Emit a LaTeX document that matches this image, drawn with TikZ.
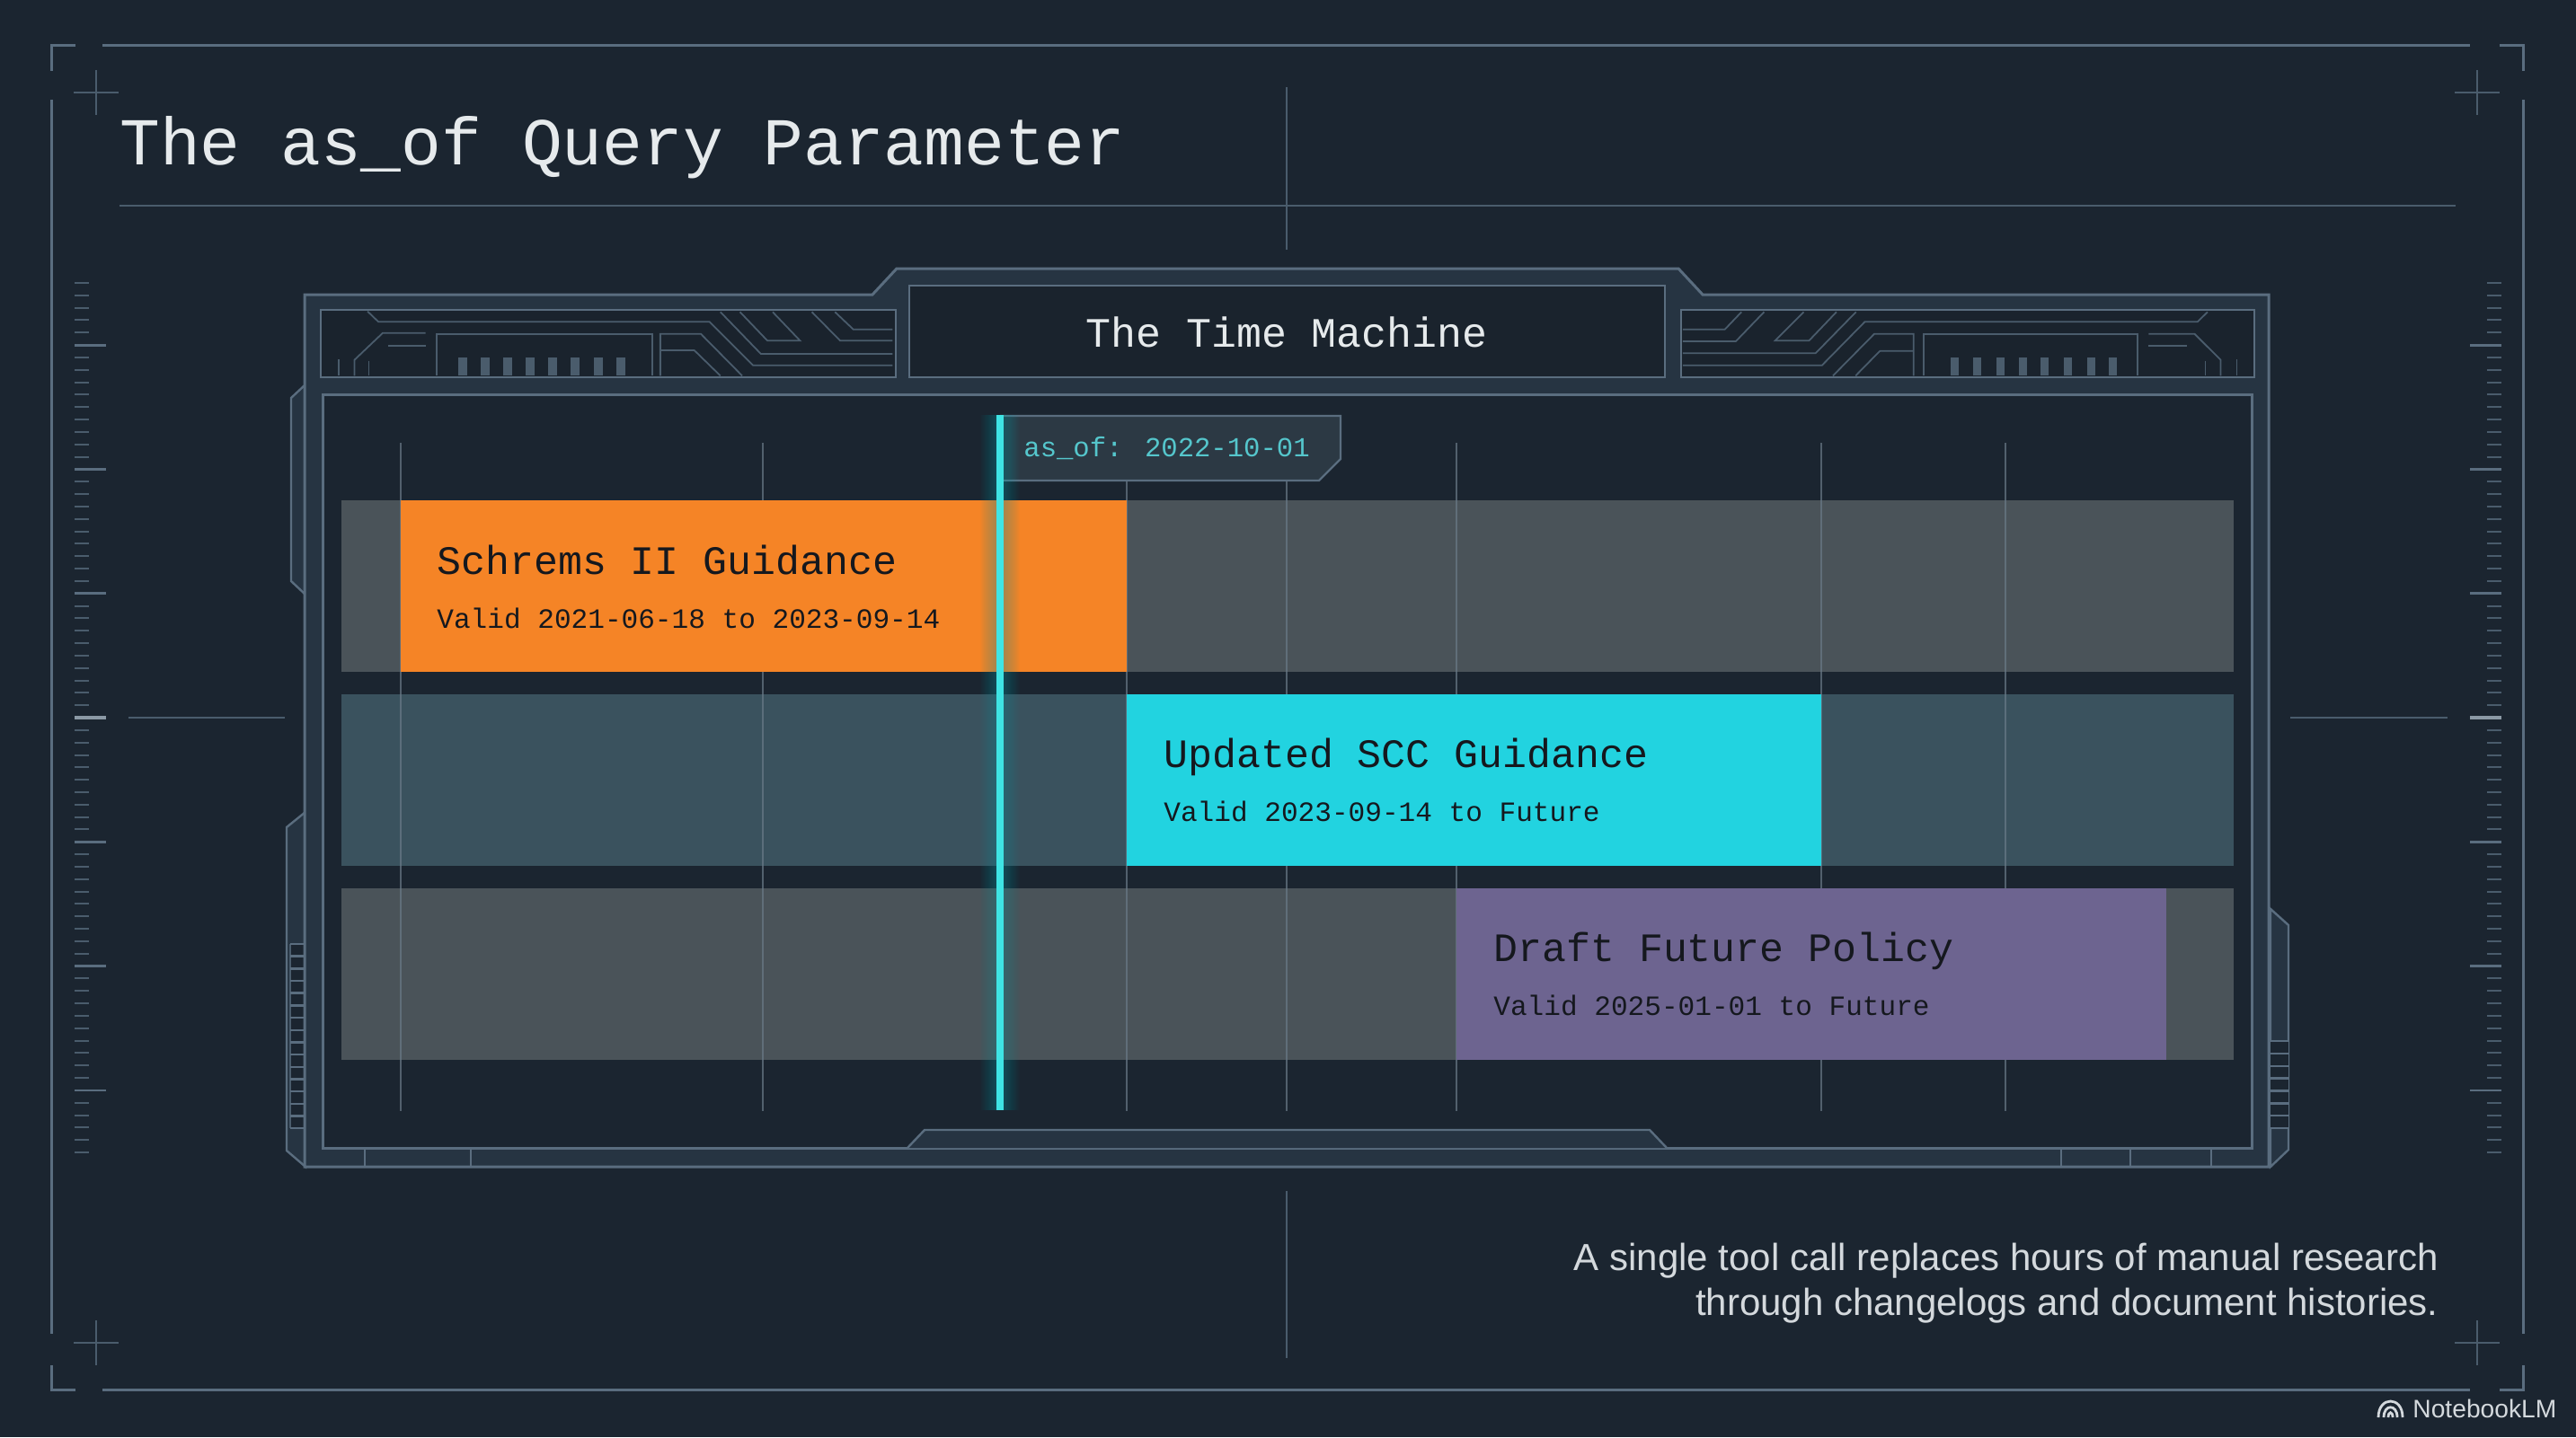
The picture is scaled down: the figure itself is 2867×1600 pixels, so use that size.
\documentclass[tikz,border=0pt]{standalone}
\usepackage{fontspec}
\setmainfont{Liberation Sans}
\newfontfamily\codefont{Liberation Mono}
\definecolor{bgc}{HTML}{1B2530}
\definecolor{bandc}{HTML}{263442}
\definecolor{stripc}{HTML}{1A232D}
\definecolor{framec}{HTML}{5A6D7F}
\definecolor{thinc}{HTML}{4A5C6C}
\definecolor{gridc}{HTML}{6A7A88}
\definecolor{rowa}{HTML}{4A5359}
\definecolor{rowb}{HTML}{3A525E}
\definecolor{orangec}{HTML}{F58426}
\definecolor{cyanc}{HTML}{22D3E0}
\definecolor{purplec}{HTML}{6D6490}
\definecolor{linec}{HTML}{3FE4E4}
\definecolor{glowc}{HTML}{12B4BC}
\definecolor{tagc}{HTML}{2C3944}
\definecolor{tagt}{HTML}{55C6CC}
\definecolor{titlec}{HTML}{E6EAEC}
\definecolor{capc}{HTML}{D4D9DD}
\definecolor{inkc}{HTML}{15181E}
\tikzset{
  fr/.style={draw=framec,line width=1.5pt},
  frs/.style={draw=framec,line width=1.2pt},
  deco/.style={draw=thinc,line width=0.9pt},
  barz/.style={fill=thinc},
  gridl/.style={draw=gridc,line width=0.7pt,draw opacity=0.7},
  tickmin/.style={draw=thinc,line width=1pt},
  tickmaj/.style={draw=framec,line width=1.4pt},
  txt/.style={inner sep=0pt,anchor=base west},
  rowt/.style={txt,text=inkc,font=\codefont\fontsize{22.45pt}{26pt}\selectfont},
  rows/.style={txt,text=inkc,font=\codefont\fontsize{15.55pt}{18pt}\selectfont},
}
\begin{document}
\begin{tikzpicture}[x=0.5pt,y=-0.5pt]
\useasboundingbox (0,0) rectangle (2867,1600);
\fill[bgc] (0,0) rectangle (2867,1600);
% outer corner frame
\draw[fr] (114,51) -- (2749,51);
\draw[fr] (114,1547) -- (2749,1547);
\draw[fr] (57,111) -- (57,1485);
\draw[fr] (2808,111) -- (2808,1485);
\draw[fr] (84,51) -- (57,51) -- (57,79);
\draw[fr] (2782,51) -- (2808,51) -- (2808,79);
\draw[fr] (84,1547) -- (57,1547) -- (57,1520);
\draw[fr] (2782,1547) -- (2808,1547) -- (2808,1520);
% crosses
\foreach \cx/\cy in {107/103,2757/103,107/1495,2757/1495}{
  \draw[draw=thinc,line width=1.1pt] (\cx-25,\cy) -- (\cx+25,\cy) (\cx,\cy-25) -- (\cx,\cy+25);
}
% title rule and cross hairs
\draw[draw=thinc,line width=1pt] (133,229) -- (2733,229);
\draw[draw=thinc,line width=0.8pt] (1432,97) -- (1432,278);
\draw[draw=thinc,line width=0.8pt] (1432,1326) -- (1432,1512);
\draw[draw=thinc,line width=0.8pt] (143,799) -- (317,799);
\draw[draw=thinc,line width=0.8pt] (2549,799) -- (2724,799);
% rulers
\foreach \k in {-35,...,35}{
  \pgfmathsetmacro{\ty}{799+13.83*\k}
  \draw[tickmin] (83,\ty) -- (99,\ty);
  \draw[tickmin] (2768,\ty) -- (2784,\ty);
}
\foreach \k in {-3,...,3}{
  \pgfmathsetmacro{\ty}{799+138.3*\k}
  \draw[tickmaj] (83,\ty) -- (118,\ty);
  \draw[tickmaj] (2749,\ty) -- (2784,\ty);
}
\draw[draw=framec!70!white,line width=2pt] (83,799) -- (118,799);
\draw[draw=framec!70!white,line width=2pt] (2749,799) -- (2784,799);
% side brackets
\draw[frs,fill=bandc] (339,429) -- (324,443) -- (324,647) -- (340,662);
\draw[frs,fill=bandc] (340,904) -- (319,921) -- (319,1281) -- (340,1299) -- cycle;
\draw[frs,fill=bandc] (2527,1012) -- (2547,1030) -- (2547,1280) -- (2527,1299) -- cycle;
\fill[bgc] (323,1051) rectangle (340,1256);
\fill[bgc] (2527,1159) rectangle (2547,1256);
\draw[deco] (323,1051) -- (323,1256);
\foreach \k in {0,...,15}{
  \draw[frs] (323,1051+13.67*\k) -- (340,1051+13.67*\k);
}
\foreach \k in {0,...,7}{
  \draw[frs] (2527,1159+13.86*\k) -- (2547,1159+13.86*\k);
}
% main panel
\draw[fr,fill=bandc] (339,328) -- (971,328) -- (998,299) -- (1868,299) -- (1895,328) -- (2525,328) -- (2525,1299) -- (339,1299) -- cycle;
\draw[frs,fill=stripc] (357,345) rectangle (997,420);
\draw[frs,fill=stripc] (1871,345) rectangle (2509,420);
\draw[frs,fill=stripc] (1012,318) rectangle (1853,420);
\draw[fr,fill=bgc] (359,439) rectangle (2506,1278);
\draw[frs,fill=bandc] (1010,1278) -- (1029,1258) -- (1836,1258) -- (1855,1278);
% bottom dividers
\foreach \dx in {406,524,2294,2371,2461}{
  \draw[frs] (\dx,1278) -- (\dx,1299);
}
% left strip decoration
\begin{scope}[shift={(300,270)},x=0.2424pt,y=-0.16667pt]
  \draw[deco] (225,230) -- (250,265) -- (1010,265) -- (1110,410) -- (1430,410);
  \draw[deco] (1035,232) -- (1128,372) -- (1430,372);
  \draw[deco] (1080,232) -- (1143,328) -- (1218,328) -- (1155,232);
  \draw[deco] (1245,232) -- (1310,328) -- (1430,328);
  \draw[deco] (1298,232) -- (1340,290) -- (1430,290);
  \draw[deco] (195,445) -- (195,392) -- (260,302) -- (358,302);
  \draw[deco,line width=1.3pt] (272,345) -- (358,345);
  \draw[deco] (158,390) -- (158,445);
  \draw[deco] (228,395) -- (228,445);
  \draw[deco] (383,445) -- (383,305) -- (878,305) -- (878,445);
  \draw[deco] (897,445) -- (897,305) -- (990,305) -- (1085,445);
  \draw[deco] (897,360) -- (975,360) -- (1035,445);
  \foreach \bx in {433,485,537,588,640,692,745,797}{
    \fill[barz] (\bx,385) rectangle (\bx+20,445);
  }
\end{scope}
% right strip decoration
\begin{scope}[shift={(1800,270)},x=0.2424pt,y=-0.16667pt]
  \draw[deco] (285,232) -- (247,290) -- (150,290);
  \draw[deco] (337,232) -- (272,330) -- (150,330);
  \draw[deco] (428,232) -- (362,328) -- (440,328) -- (503,232);
  \draw[deco] (548,232) -- (455,370) -- (150,370);
  \draw[deco] (1355,232) -- (1332,265) -- (568,265) -- (470,410) -- (150,410);
  \draw[deco] (495,445) -- (590,305) -- (680,305) -- (680,445);
  \draw[deco] (547,445) -- (603,362) -- (680,362);
  \draw[deco] (703,445) -- (703,305) -- (1195,305) -- (1195,445);
  \draw[deco] (1220,305) -- (1325,305) -- (1385,392) -- (1385,445);
  \draw[deco,line width=1.3pt] (1220,345) -- (1307,345);
  \draw[deco] (1350,395) -- (1350,445);
  \draw[deco] (1422,390) -- (1422,445);
  \foreach \bx in {765,817,870,921,972,1025,1078,1128}{
    \fill[barz] (\bx,385) rectangle (\bx+19,445);
  }
\end{scope}
% rows
\fill[rowa] (380,557) rectangle (2486,748);
\fill[rowb] (380,773) rectangle (2486,964);
\fill[rowa] (380,989) rectangle (2486,1180);
% grid lines
\foreach \gx/\gy in {446/493,849/493,1254/535,1432/535,1621/493,2027/493,2232/493}{
  \draw[gridl] (\gx,\gy) -- (\gx,1237);
}
% blocks
\fill[orangec] (446,557) rectangle (1254,748);
\fill[cyanc] (1254,773) rectangle (2027,964);
\fill[purplec] (1621,989) rectangle (2411,1180);
% tag
\draw[frs,fill=tagc] (1113,463) -- (1492,463) -- (1492,511) -- (1468,535) -- (1113,535);
% as_of line with glow
\foreach \gw in {44,42,...,10}{
  \draw[glowc,line width=\gw*0.5pt,opacity=0.02] (1113,462) -- (1113,1236);
}
\draw[linec,line width=3.6pt] (1113,462) -- (1113,1236);
% texts
\node[txt,text=titlec,font=\codefont\fontsize{37.3pt}{44pt}\selectfont] (title) at (133,183) {The as\_of Query Parameter};
\node[inner sep=0pt,anchor=base,text=titlec,font=\codefont\fontsize{23.3pt}{28pt}\selectfont] (machine) at (1432,386) {The Time Machine};
\node[txt,text=tagt,font=\codefont\fontsize{15.3pt}{18pt}\selectfont] (tag) at (1139,508) {as\_of: 2022-10-01};
\node[rowt] (ra) at (486,639) {Schrems II Guidance};
\node[rows] (rb) at (486,699) {Valid 2021-06-18 to 2023-09-14};
\node[rowt] (sa) at (1295,854) {Updated SCC Guidance};
\node[rows] (sb) at (1295,914) {Valid 2023-09-14 to Future};
\node[rowt] (da) at (1662,1070) {Draft Future Policy};
\node[rows] (db) at (1662,1130) {Valid 2025-01-01 to Future};
\node[inner sep=0pt,anchor=base east,text=capc,font=\fontsize{21pt}{25pt}\selectfont] (capa) at (2714,1414) {A single tool call replaces hours of manual research};
\node[inner sep=0pt,anchor=base east,text=capc,font=\fontsize{21pt}{25pt}\selectfont] (capb) at (2714,1464) {through changelogs and document histories.};
\node[inner sep=0pt,anchor=base west,text=capc,font=\fontsize{14.1pt}{16pt}\selectfont] (nlm) at (2685,1578) {NotebookLM};
% logo
\draw[capc,line width=1.4pt] (2647,1578) .. controls (2647,1554) and (2674,1554) .. (2674,1578);
\draw[capc,line width=1.4pt] (2653,1578) .. controls (2653,1563) and (2668,1563) .. (2668,1578);
\draw[capc,line width=1.4pt] (2658,1578) .. controls (2658,1571) and (2663,1571) .. (2663,1578);
\end{tikzpicture}
\end{document}
